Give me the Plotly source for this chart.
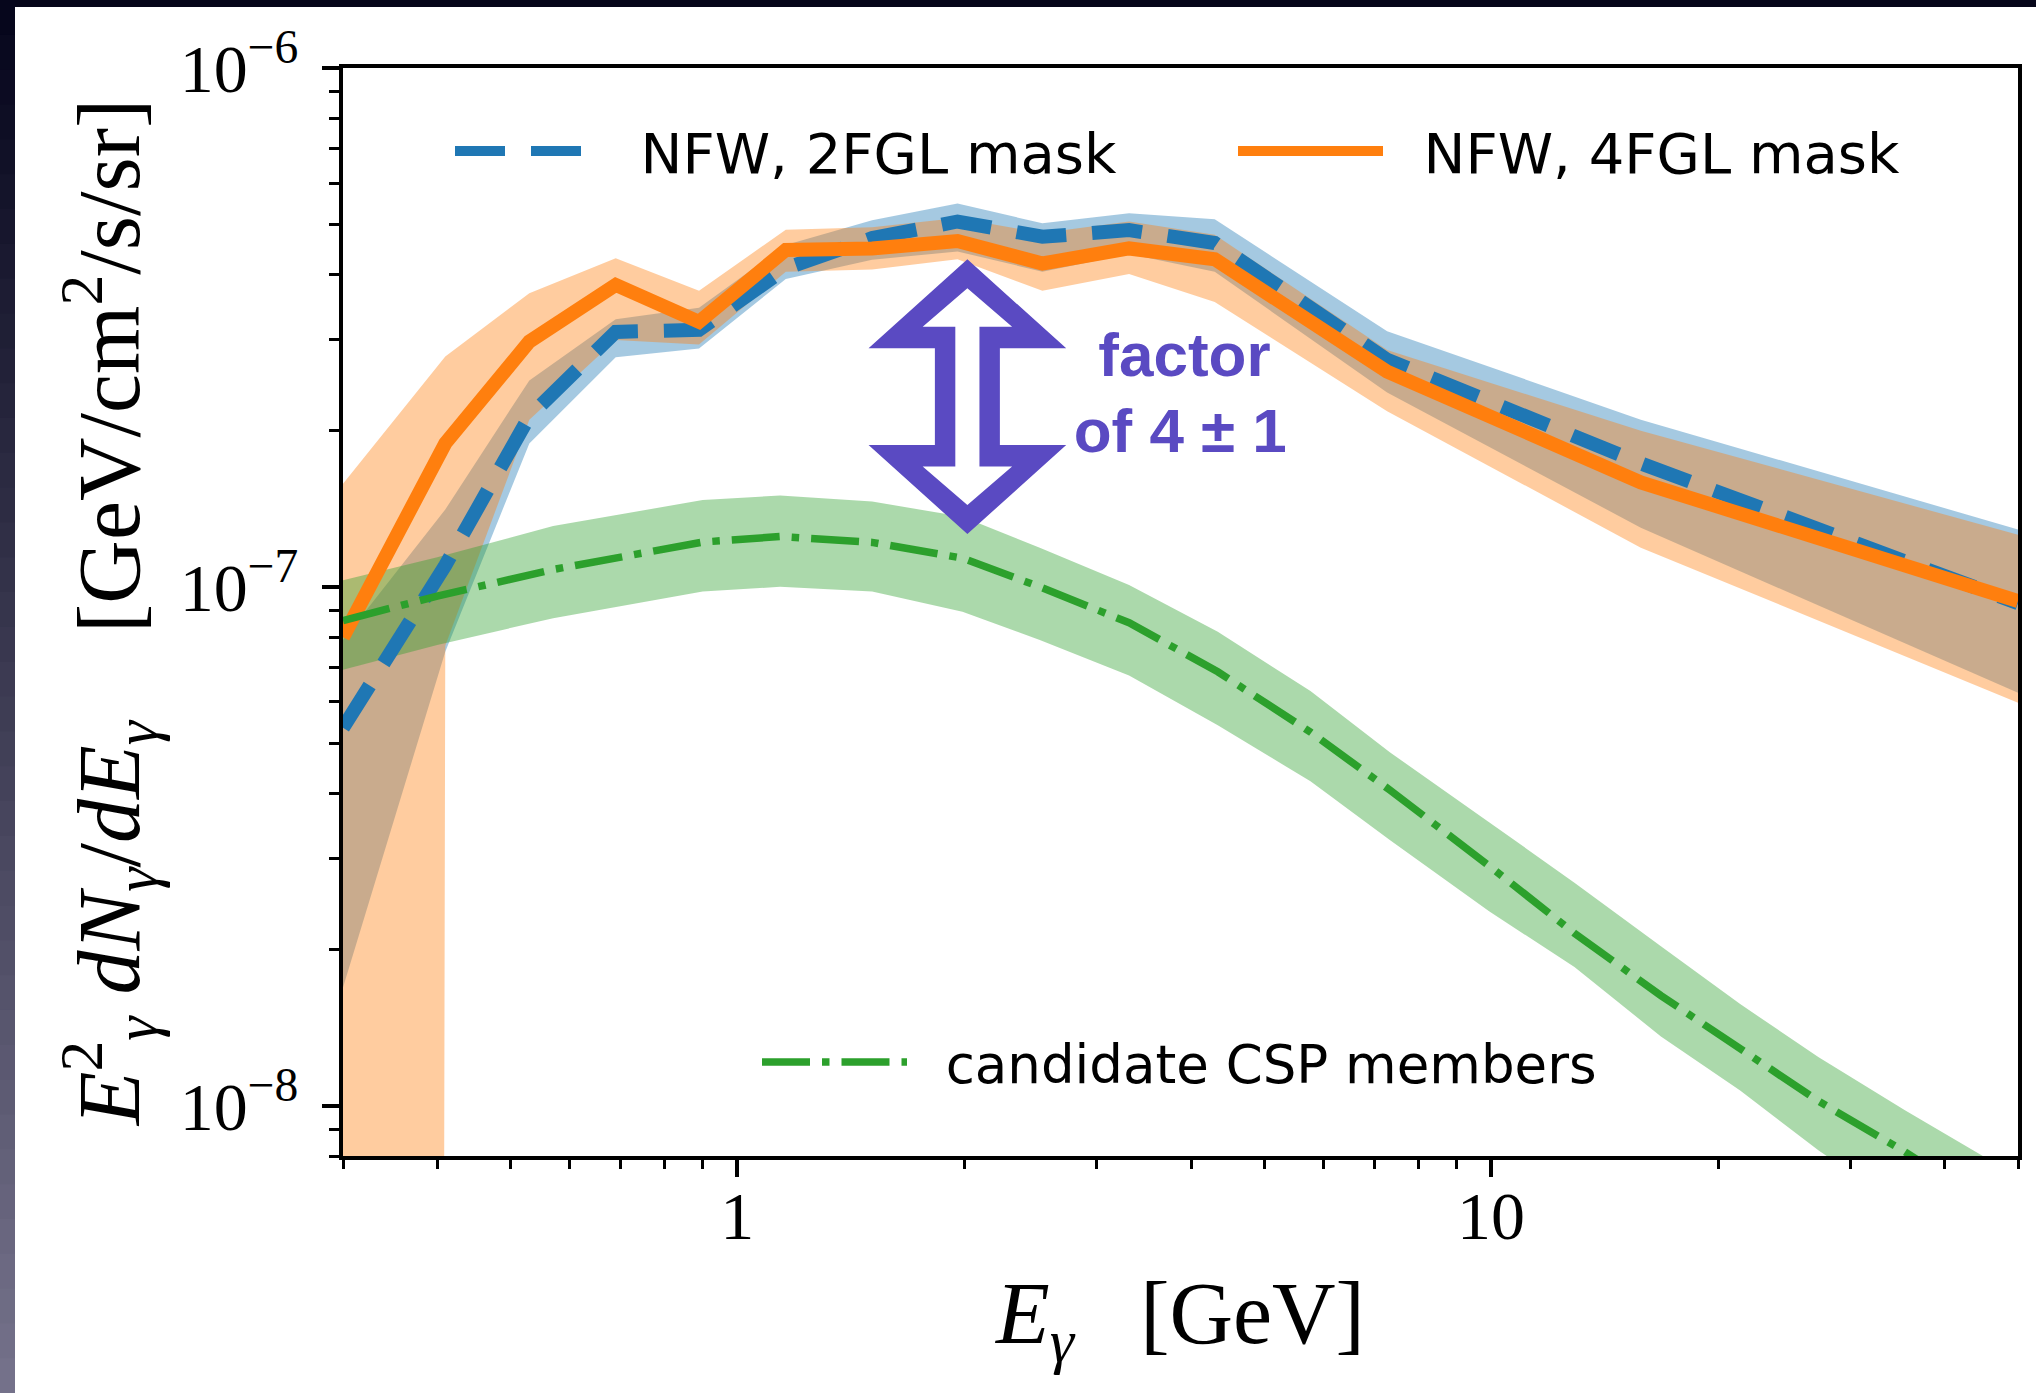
import numpy as np
import plotly.graph_objects as go

# ---------------------------------------------------------------------------
# Data (E in GeV, E^2 dN/dE in GeV/cm^2/s/sr)
# ---------------------------------------------------------------------------
energy_nfw = [0.30, 0.41, 0.53, 0.69, 0.89, 1.16, 1.51, 1.96, 2.54, 3.31, 4.30, 7.28, 15.8, 50.0]

# NFW template, 2FGL source mask: best fit and 68% band
nfw_2fgl = [5.35e-8, 1.10e-7, 2.13e-7, 3.10e-7, 3.13e-7, 4.11e-7, 4.70e-7,
            5.06e-7, 4.73e-7, 4.87e-7, 4.60e-7, 2.74e-7, 1.73e-7, 9.3e-8]
nfw_2fgl_lo = [1.69e-8, 7.5e-8, 1.89e-7, 2.77e-7, 2.88e-7, 3.92e-7, 4.27e-7,
               4.43e-7, 4.05e-7, 4.38e-7, 4.05e-7, 2.37e-7, 1.30e-7, 6.25e-8]
nfw_2fgl_hi = [7.9e-8, 1.41e-7, 2.50e-7, 3.28e-7, 3.45e-7, 4.56e-7, 5.09e-7,
               5.48e-7, 5.02e-7, 5.25e-7, 5.11e-7, 3.11e-7, 2.10e-7, 1.29e-7]

# NFW template, 4FGL source mask: best fit and 68% band
nfw_4fgl = [8.0e-8, 1.89e-7, 2.97e-7, 3.82e-7, 3.24e-7, 4.46e-7, 4.49e-7,
            4.64e-7, 4.20e-7, 4.49e-7, 4.28e-7, 2.60e-7, 1.59e-7, 9.39e-8]
nfw_4fgl_lo = [0.0, 7.7e-8, 2.10e-7, 2.99e-7, 2.93e-7, 4.05e-7, 4.09e-7,
               4.28e-7, 3.72e-7, 4.01e-7, 3.54e-7, 2.18e-7, 1.19e-7, 5.98e-8]
nfw_4fgl_hi = [1.58e-7, 2.78e-7, 3.68e-7, 4.30e-7, 3.72e-7, 4.88e-7, 4.93e-7,
               5.14e-7, 4.81e-7, 5.06e-7, 4.77e-7, 2.86e-7, 2.00e-7, 1.26e-7]

# Summed spectrum of candidate CSP members and its band
energy_csp = [0.30, 0.40, 0.57, 0.90, 1.14, 1.51, 1.99, 2.52, 3.31, 4.34,
              5.76, 7.34, 9.94, 12.9, 16.8, 21.4, 27.2, 35.4, 50.0]
csp = [8.61e-8, 9.6e-8, 1.08e-7, 1.22e-7, 1.25e-7, 1.218e-7, 1.136e-7, 1.0e-7,
       8.53e-8, 6.86e-8, 5.25e-8, 4.06e-8, 2.90e-8, 2.15e-8, 1.63e-8, 1.29e-8,
       1.02e-8, 8.15e-9, 5.9e-9]
csp_lo = [6.92e-8, 7.73e-8, 8.7e-8, 9.8e-8, 1.0e-7, 9.8e-8, 8.95e-8, 7.9e-8,
          6.75e-8, 5.41e-8, 4.22e-8, 3.25e-8, 2.37e-8, 1.85e-8, 1.36e-8, 1.07e-8,
          8.2e-9, 6.3e-9, 4.5e-9]
csp_hi = [1.03e-7, 1.14e-7, 1.31e-7, 1.47e-7, 1.50e-7, 1.46e-7, 1.365e-7, 1.19e-7,
          1.008e-7, 8.19e-8, 6.3e-8, 4.8e-8, 3.52e-8, 2.69e-8, 2.03e-8, 1.57e-8,
          1.24e-8, 9.8e-9, 7.3e-9]

# Axis ticks
x_tick_vals = [1, 10]
x_tick_text = ["1", "10"]
x_minor_vals = [0.3, 0.4, 0.5, 0.6, 0.7, 0.8, 0.9, 2, 3, 4, 5, 6, 7, 8, 9, 20, 30, 40, 50]
y_tick_vals = [1e-8, 1e-7, 1e-6]
y_tick_text = ["10<sup>−8</sup>", "10<sup>−7</sup>", "10<sup>−6</sup>"]
y_minor_vals = [8e-9, 9e-9] + [k * 1e-8 for k in range(2, 10)] + [k * 1e-7 for k in range(2, 10)]

# ---------------------------------------------------------------------------
# Styling
# ---------------------------------------------------------------------------
BLUE, ORANGE, GREEN, PURPLE = "#1f77b4", "#ff7f0e", "#2ca02c", "#5a4ac2"
BLUE_BAND = "rgba(31,119,180,0.4)"
ORANGE_BAND = "rgba(255,127,14,0.4)"
GREEN_BAND = "rgba(44,160,44,0.4)"
SERIF = "Liberation Serif"
SANS = "DejaVu Sans"
GAP = "\u00a0\u00a0"                       # space between legend line and label

W, H = 2036, 1393
L, R, T, B = 343, 2018, 68, 1156          # plot area in pixels
LOG_FLOOR = 1e-100                         # non-positive values sit far below the axis


def px_x(px):
    return (px - L) / (R - L)


def px_y(py):
    return 1 - (py - T) / (B - T)


def band(x, lo, hi, color):
    lo = [v if v > 0 else LOG_FLOOR for v in lo]
    return go.Scatter(x=list(x) + list(x)[::-1], y=list(hi) + lo[::-1],
                      mode="lines", fill="toself", fillcolor=color,
                      line=dict(width=0), hoverinfo="skip", showlegend=False)


fig = go.Figure()
fig.add_trace(band(energy_nfw, nfw_2fgl_lo, nfw_2fgl_hi, BLUE_BAND))
fig.add_trace(band(energy_nfw, nfw_4fgl_lo, nfw_4fgl_hi, ORANGE_BAND))
fig.add_trace(band(energy_csp, csp_lo, csp_hi, GREEN_BAND))

fig.add_trace(go.Scatter(x=energy_nfw, y=nfw_2fgl, mode="lines", name=GAP + "NFW, 2FGL mask",
                         line=dict(color=BLUE, width=14, dash="50px,26px"), legend="legend"))
fig.add_trace(go.Scatter(x=energy_nfw, y=nfw_4fgl, mode="lines", name=GAP + "NFW, 4FGL mask",
                         line=dict(color=ORANGE, width=14), legend="legend2"))
fig.add_trace(go.Scatter(x=energy_csp, y=csp, mode="lines",
                         name=GAP + "candidate CSP members",
                         line=dict(color=GREEN, width=7.5, dash="48px,12px,7.5px,12px"),
                         legend="legend3"))

# Hollow double-headed arrow between the NFW and CSP levels
ARROW_E = 2.02


def arrow_outline(half_head, half_shaft, top, bottom, head_len):
    pts = [(0, top), (half_head, top - head_len), (half_shaft, top - head_len),
           (half_shaft, bottom + head_len), (half_head, bottom + head_len), (0, bottom),
           (-half_head, bottom + head_len), (-half_shaft, bottom + head_len),
           (-half_shaft, top - head_len), (-half_head, top - head_len), (0, top)]
    xs = [10 ** (np.log10(ARROW_E) + dx) for dx, _ in pts]
    ys = [10 ** ly for _, ly in pts]
    return xs, ys


for (hh, hs, top, bot, hl), col in [((0.1311, 0.0431, -6.3687, -6.8982, 0.1716), PURPLE),
                                     ((0.0593, 0.0160, -6.4246, -6.8423, 0.0741), "white")]:
    ax, ay = arrow_outline(hh, hs, top, bot, hl)
    fig.add_trace(go.Scatter(x=ax, y=ay, mode="lines", fill="toself", fillcolor=col,
                             line=dict(width=0), hoverinfo="skip", showlegend=False))

fig.add_trace(go.Scatter(x=[3.92, 3.87], y=[2.736e-7, 1.953e-7], mode="text",
                         text=["factor", "of 4 ± 1"], textposition="middle center",
                         textfont=dict(family="Liberation Sans", size=62, color=PURPLE,
                                       weight="bold"),
                         hoverinfo="skip", showlegend=False))

# Slide frame: dark band on top and a shaded strip on the left
shapes = [dict(type="rect", xref="paper", yref="paper", x0=px_x(0), x1=px_x(W),
               y0=px_y(0), y1=px_y(7), fillcolor="rgb(6,6,26)", line=dict(width=0),
               layer="below")]
n_strip = 40
for i in range(n_strip):
    f = i / (n_strip - 1)
    c = tuple(int(round(a + (b - a) * f)) for a, b in zip((6, 6, 28), (116, 113, 138)))
    shapes.append(dict(type="rect", xref="paper", yref="paper", x0=px_x(0), x1=px_x(15),
                       y0=px_y(H * i / n_strip), y1=px_y(H * (i + 1) / n_strip + 1),
                       fillcolor="rgb(%d,%d,%d)" % c, line=dict(width=0), layer="below"))

legend_style = dict(xanchor="left", yanchor="middle", bgcolor="rgba(0,0,0,0)",
                    borderwidth=0, itemwidth=145, orientation="h")
legend_font = dict(family=SANS, size=56, color="black")

fig.update_layout(
    width=W, height=H,
    margin=dict(l=L, r=W - R, t=T, b=H - B, autoexpand=False),
    paper_bgcolor="white", plot_bgcolor="white",
    shapes=shapes,
    legend=dict(x=px_x(450), y=px_y(151), font=legend_font, **legend_style),
    legend2=dict(x=px_x(1233), y=px_y(151), font=legend_font, **legend_style),
    legend3=dict(x=px_x(757), y=px_y(1062), font=dict(legend_font, size=53),
                 **legend_style),
)

axis_common = dict(type="log", showline=True, linecolor="black", linewidth=4, mirror=True,
                   ticks="outside", tickcolor="black", tickwidth=3.5, ticklen=17,
                   showgrid=False, zeroline=False,
                   tickfont=dict(family=SERIF, size=68, color="black"))

fig.update_xaxes(range=[np.log10(0.3), np.log10(50)], tickvals=x_tick_vals,
                 ticktext=x_tick_text, ticklabelstandoff=-20,
                 minor=dict(ticks="outside", ticklen=9, tickwidth=2.5, tickcolor="black",
                            tickvals=x_minor_vals, showgrid=False),
                 title=dict(text="<i>E</i><sub><i>γ</i></sub>   [GeV]",
                            font=dict(family=SERIF, size=88, color="black"), standoff=30),
                 **axis_common)
fig.update_yaxes(range=[np.log10(8e-9), -6], tickvals=y_tick_vals, ticktext=y_tick_text,
                 ticklabelstandoff=10,
                 minor=dict(ticks="outside", ticklen=10, tickwidth=2.5, tickcolor="black",
                            tickvals=y_minor_vals, showgrid=False),
                 title=dict(text="<i>E</i><sup>2</sup><sub><i>γ</i></sub> <i>dN</i>"
                                 "<sub><i>γ</i></sub>/<i>dE</i><sub><i>γ</i></sub>    "
                                 "[GeV/cm<sup>2</sup>/s/sr]",
                            font=dict(family=SERIF, size=88, color="black"), standoff=12),
                 **axis_common)

fig.write_html("out.html")
